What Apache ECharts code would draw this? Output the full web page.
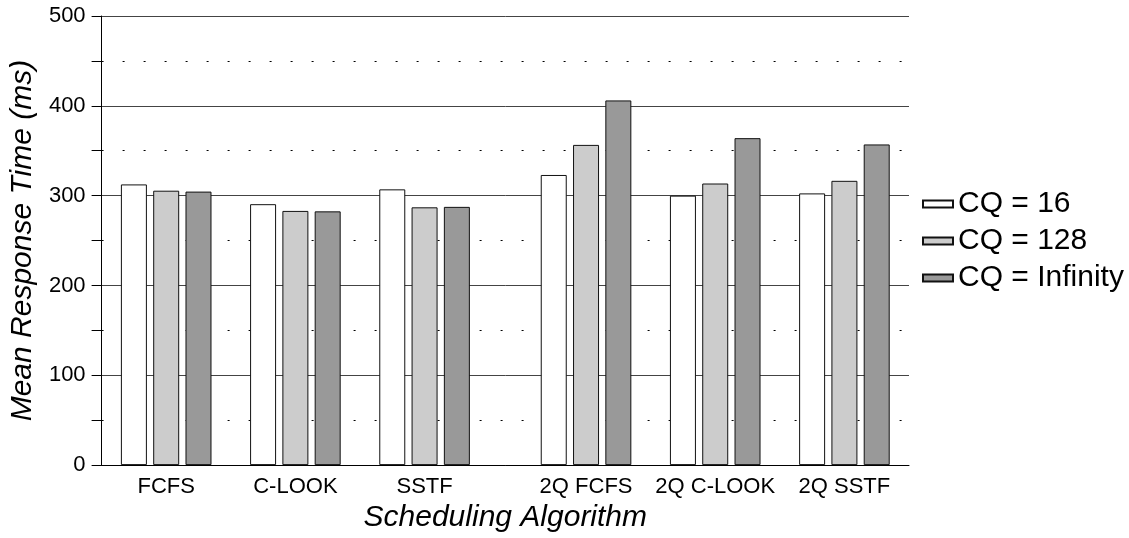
<!DOCTYPE html>
<html>
<head>
<meta charset="utf-8">
<style>
  html, body { margin: 0; padding: 0; background: #fff; }
  #chart { width: 1129px; height: 538px; }
</style>
<script src="https://cdn.jsdelivr.net/npm/echarts@6/dist/echarts.min.js"></script>
</head>
<body>
<div id="chart"></div>
<script>
// Scheduling algorithms and mean response time (ms) per command-queue depth
const algorithms = ['FCFS', 'C-LOOK', 'SSTF', '2Q FCFS', '2Q C-LOOK', '2Q SSTF'];
const seriesNames = ['CQ = 16', 'CQ = 128', 'CQ = Infinity'];
const cq16   = [312.5, 290.5, 307.0, 323.0, 300.0, 302.5];
const cq128  = [305.5, 283.0, 287.0, 356.5, 313.5, 316.5];
const cqInf  = [304.5, 282.5, 287.5, 406.0, 364.0, 357.0];
const yTicks = [0, 100, 200, 300, 400, 500];

// Slot layout of the clustered bars along the x axis
const slotCount = 26;
const clusterStart = [1, 5, 9, 14, 18, 22];

const slotLabels = new Array(slotCount).fill('');
algorithms.forEach((name, i) => { slotLabels[clusterStart[i] + 1] = name; });

function slotData(values, offset) {
  const arr = new Array(slotCount).fill('-');
  values.forEach((v, i) => { arr[clusterStart[i] + offset] = v; });
  return arr;
}

const fills = ['#ffffff', '#cccccc', '#999999'];
const seriesValues = [cq16, cq128, cqInf];
const FONT = "'Liberation Sans', Arial, Helvetica, sans-serif";

const series = seriesValues.map((vals, s) => ({
  name: seriesNames[s],
  type: 'bar',
  data: slotData(vals, s),
  barWidth: 26,
  barGap: '-100%',
  itemStyle: { color: fills[s], borderColor: '#111', borderWidth: 1 },
  emphasis: { disabled: true }
}));

const chart = echarts.init(document.getElementById('chart'), null, { renderer: 'canvas' });
chart.setOption({
  animation: false,
  backgroundColor: '#ffffff',
  textStyle: { fontFamily: FONT },
  grid: { left: 97, right: 220, top: 16, bottom: 71, containLabel: false },
  legend: {
    orient: 'vertical',
    left: 922,
    top: 189,
    padding: 0,
    itemWidth: 30,
    itemHeight: 7,
    itemGap: 7,
    icon: 'rect',
    selectedMode: false,
    data: seriesNames,
    textStyle: { fontFamily: FONT, fontSize: 30, color: '#000', lineHeight: 30 }
  },
  xAxis: {
    type: 'category',
    data: slotLabels,
    boundaryGap: false,
    axisLine: { show: true, lineStyle: { color: '#000', width: 1 } },
    axisTick: { show: false },
    axisLabel: { interval: 0, margin: 11, color: '#000', fontSize: 22, fontFamily: FONT },
    splitLine: { show: false },
    name: 'Scheduling Algorithm',
    nameLocation: 'middle',
    nameGap: 34,
    nameTextStyle: { fontSize: 30, fontStyle: 'italic', color: '#000', fontFamily: FONT }
  },
  yAxis: {
    type: 'value',
    min: yTicks[0],
    max: yTicks[yTicks.length - 1],
    interval: 100,
    axisLine: { show: true, lineStyle: { color: '#000', width: 1 } },
    axisTick: { show: true, inside: false, length: 10, lineStyle: { color: '#000' } },
    minorTick: { show: true, splitNumber: 2, length: 10, lineStyle: { color: '#000' } },
    axisLabel: { margin: 16, color: '#000', fontSize: 22, fontFamily: FONT },
    splitLine: { show: true, lineStyle: { color: '#444', width: 1 } },
    minorSplitLine: { show: true, lineStyle: { color: '#000', width: 1, type: [2, 19] } },
    name: 'Mean Response Time (ms)',
    nameLocation: 'middle',
    nameGap: 54,
    nameTextStyle: { fontSize: 30, fontStyle: 'italic', color: '#000', fontFamily: FONT }
  },
  series: series
});
</script>
</body>
</html>
